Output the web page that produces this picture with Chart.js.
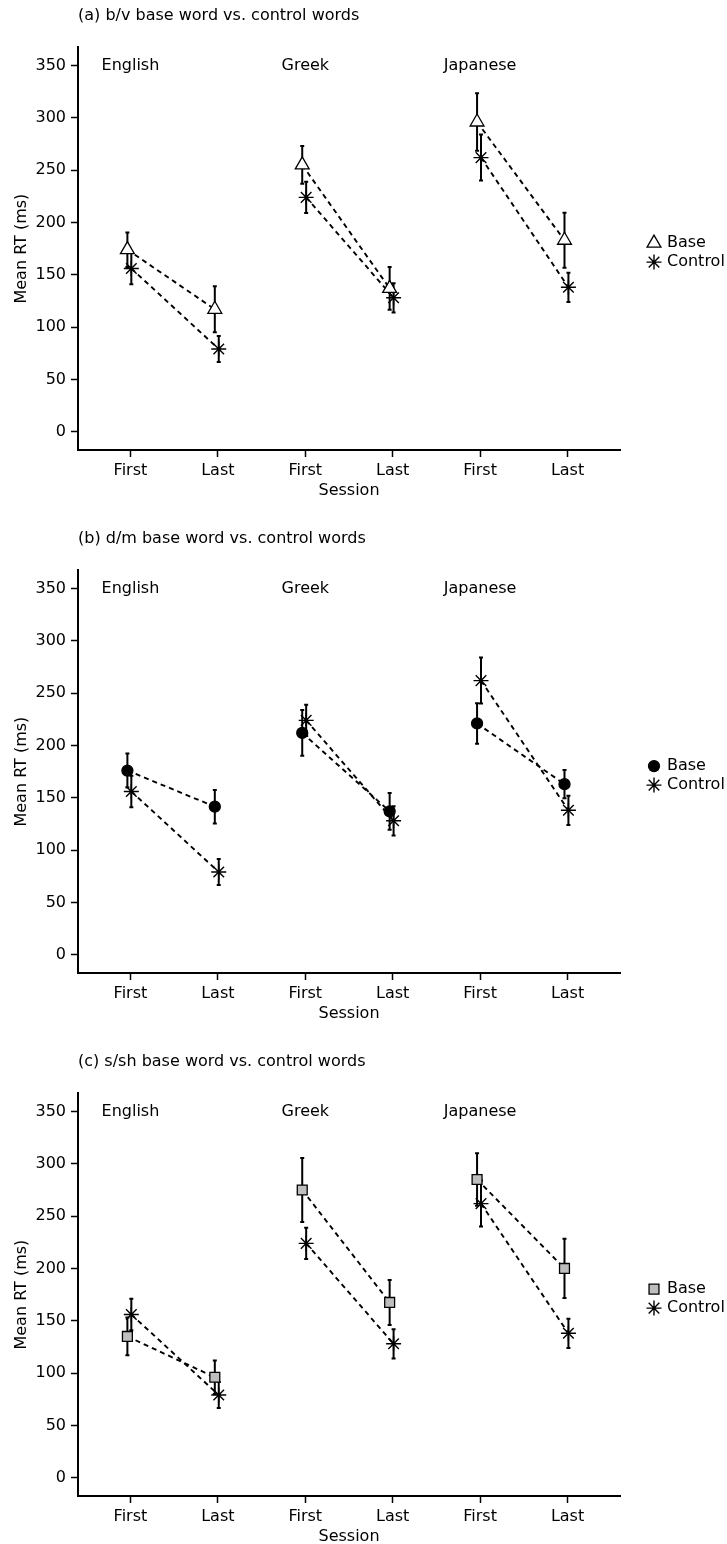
<!DOCTYPE html>
<html>
<head>
<meta charset="utf-8">
<script src="https://cdn.jsdelivr.net/npm/chart.js@4.4.0/dist/chart.umd.min.js"></script>
<style>
  html, body { margin: 0; padding: 0; background: #fff; overflow: hidden; }
  .panel { position: absolute; left: 0; }
</style>
</head>
<body>
<canvas id="chartA" class="panel" width="727" height="500" style="top:0px"></canvas>
<canvas id="chartB" class="panel" width="727" height="500" style="top:523px"></canvas>
<canvas id="chartC" class="panel" width="727" height="500" style="top:1046px"></canvas>
<script>
// categories / ticks
const xLabels = ['First', 'Last', 'First', 'Last', 'First', 'Last'];
const xPos = [1, 2, 3, 4, 5, 6];
const groupLabels = ['English', 'Greek', 'Japanese'];
const yTicks = [0, 50, 100, 150, 200, 250, 300, 350];
const panelTitles = [
  '(a) b/v base word vs. control words',
  '(b) d/m base word vs. control words',
  '(c) s/sh base word vs. control words'
];
const seriesNames = ['Base', 'Control'];

// mean RT (ms) and error bar half-lengths
const controlMean = [156, 79, 224, 128, 262, 138];
const controlErr = [15, 12.5, 15, 14, 22, 14];

const bvBase = [174, 117, 255, 137, 296, 183];
const bvBaseErr = [16.5, 22, 18, 20.5, 27.5, 26.3];

const dmBase = [176, 141.5, 212, 137, 221, 163];
const dmBaseErr = [16.2, 16, 21.8, 17.5, 19.3, 13.5];

const sshBase = [135, 96, 275, 167.5, 285, 200];
const sshBaseErr = [18, 16, 30.5, 21.5, 25, 28.3];

const FONT = { family: '"DejaVu Sans", "Liberation Sans", Arial, sans-serif', size: 16 };
Chart.defaults.font.family = FONT.family;
Chart.defaults.font.size = FONT.size;
Chart.defaults.color = '#000';

const toPoints = (values, shift) => xPos.map((x, i) => ({ x: x + shift, y: values[i] }));

// hide the dashed segment joining two languages
const joinOnly = { borderColor: (c) => (c.p0DataIndex % 2 === 1 ? 'rgba(0,0,0,0)' : undefined) };

const errorBars = {
  id: 'errorBars',
  beforeDatasetsDraw(chart) {
    const { ctx, scales: { y } } = chart;
    ctx.save();
    ctx.strokeStyle = '#000';
    ctx.lineWidth = 2;
    chart.data.datasets.forEach((ds, di) => {
      const meta = chart.getDatasetMeta(di);
      meta.data.forEach((pt, i) => {
        const v = ds.data[i].y;
        const e = ds.errors[i];
        const top = y.getPixelForValue(v + e);
        const bot = y.getPixelForValue(v - e);
        ctx.beginPath();
        ctx.moveTo(pt.x, top); ctx.lineTo(pt.x, bot);
        ctx.moveTo(pt.x - 2, top); ctx.lineTo(pt.x + 2, top);
        ctx.moveTo(pt.x - 2, bot); ctx.lineTo(pt.x + 2, bot);
        ctx.stroke();
      });
    });
    ctx.restore();
  }
};

const groupText = {
  id: 'groupText',
  afterDraw(chart) {
    const { ctx, scales: { x, y } } = chart;
    ctx.save();
    ctx.font = FONT.size + 'px ' + FONT.family;
    ctx.fillStyle = '#000';
    ctx.textAlign = 'center';
    ctx.textBaseline = 'middle';
    groupLabels.forEach((g, i) => {
      ctx.fillText(g, x.getPixelForValue(xPos[i * 2]), y.getPixelForValue(yTicks[yTicks.length - 1]));
    });
    ctx.restore();
  }
};

const sideLegend = {
  id: 'sideLegend',
  afterDraw(chart) {
    const { ctx, chartArea } = chart;
    const mid = (chartArea.top + chartArea.bottom) / 2;
    const rows = [mid - 5.5, mid + 13.5];
    ctx.save();
    chart.data.datasets.forEach((ds, i) => {
      const px = chartArea.right + 34;
      const py = rows[i];
      ctx.fillStyle = ds.pointBackgroundColor;
      ctx.strokeStyle = ds.pointBorderColor;
      ctx.lineWidth = ds.pointBorderWidth;
      Chart.helpers.drawPoint(ctx, {
        pointStyle: ds.pointStyle,
        radius: ds.legendRadius,
        borderWidth: ds.pointBorderWidth,
        rotation: 0
      }, px, py);
      ctx.fillStyle = '#000';
      ctx.font = FONT.size + 'px ' + FONT.family;
      ctx.textAlign = 'left';
      ctx.textBaseline = 'middle';
      ctx.fillText(ds.label, px + 13, py);
    });
    ctx.restore();
  }
};

const makePanel = (id, title, baseValues, baseErr, baseStyle) => {
  const ctx = document.getElementById(id).getContext('2d');
  return new Chart(ctx, {
    type: 'scatter',
    data: {
      datasets: [
        {
          label: seriesNames[0],
          data: toPoints(baseValues, -0.035),
          errors: baseErr,
          showLine: true,
          borderColor: '#000',
          borderWidth: 1.9,
          borderDash: [5, 4],
          segment: joinOnly,
          pointStyle: baseStyle.shape,
          pointRadius: baseStyle.radius,
          legendRadius: baseStyle.radius,
          pointBackgroundColor: baseStyle.fill,
          pointBorderColor: '#000',
          pointBorderWidth: 1.3
        },
        {
          label: seriesNames[1],
          data: toPoints(controlMean, 0.01),
          errors: controlErr,
          showLine: true,
          borderColor: '#000',
          borderWidth: 1.9,
          borderDash: [5, 4],
          segment: joinOnly,
          pointStyle: 'star',
          pointRadius: 7.5,
          legendRadius: 7.5,
          pointBackgroundColor: '#000',
          pointBorderColor: '#000',
          pointBorderWidth: 1.4
        }
      ]
    },
    options: {
      responsive: false,
      animation: false,
      devicePixelRatio: 1,
      layout: { padding: { left: 0, right: 107, top: 0, bottom: 0 } },
      plugins: {
        legend: { display: false },
        tooltip: { enabled: false },
        title: {
          display: true,
          text: title,
          align: 'start',
          fullSize: false,
          color: '#000',
          font: { size: FONT.size, weight: 'normal' },
          padding: { top: 6, bottom: 22 }
        }
      },
      scales: {
        x: {
          type: 'linear',
          min: 0.4,
          max: 6.6,
          afterBuildTicks: (s) => { s.ticks = xPos.map((v) => ({ value: v })); },
          afterFit: (s) => { s.height = 50; },
          ticks: {
            callback: (v) => xLabels[xPos.indexOf(v)],
            padding: 4,
            maxRotation: 0,
            autoSkip: false,
            color: '#000'
          },
          grid: { drawOnChartArea: false, tickLength: 7, tickWidth: 1.5, tickColor: '#000' },
          border: { color: '#000', width: 2 },
          title: { display: true, text: 'Session', color: '#000', padding: { top: 0, bottom: 0 } }
        },
        y: {
          min: -17.5,
          max: 367.5,
          afterBuildTicks: (s) => { s.ticks = yTicks.map((v) => ({ value: v })); },
          afterFit: (s) => { s.width = 78; },
          ticks: { padding: 5, color: '#000' },
          grid: { drawOnChartArea: false, tickLength: 7, tickWidth: 1.5, tickColor: '#000' },
          border: { color: '#000', width: 2 },
          title: { display: true, text: 'Mean RT (ms)', color: '#000', padding: { top: 12, bottom: 0 } }
        }
      }
    },
    plugins: [errorBars, groupText, sideLegend]
  });
};

makePanel('chartA', panelTitles[0], bvBase, bvBaseErr, { shape: 'triangle', radius: 8, fill: '#fff' });
makePanel('chartB', panelTitles[1], dmBase, dmBaseErr, { shape: 'circle', radius: 5.5, fill: '#000' });
makePanel('chartC', panelTitles[2], sshBase, sshBaseErr, { shape: 'rect', radius: 7, fill: '#bebebe' });
</script>
</body>
</html>
